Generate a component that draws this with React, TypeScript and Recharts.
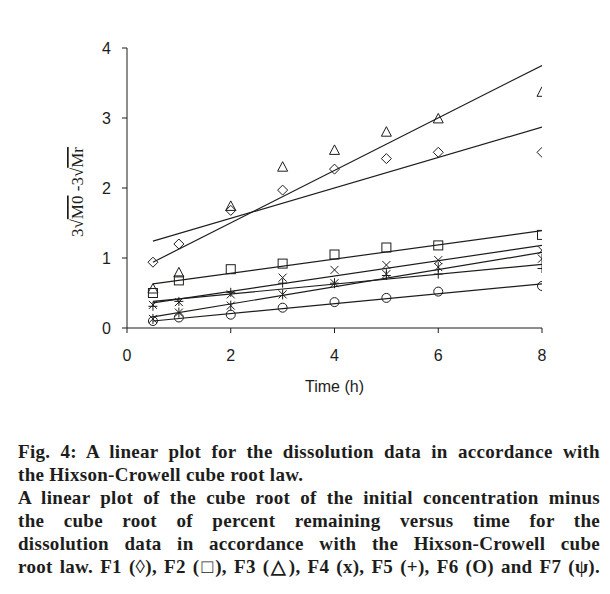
import React from 'react';
import { ScatterChart, Scatter, XAxis, YAxis, Label } from 'recharts';

const TIMES = [0.5, 1, 2, 3, 4, 5, 6, 8];

const F1 = [0.94, 1.2, 1.68, 1.97, 2.27, 2.42, 2.51, 2.51];
const F2 = [0.5, 0.68, 0.84, 0.92, 1.05, 1.15, 1.18, 1.33];
const F3 = [0.55, 0.78, 1.73, 2.29, 2.53, 2.79, 2.98, 3.36];
const F4 = [0.33, 0.37, 0.48, 0.72, 0.83, 0.9, 0.97, 1.11];
const F5 = [0.31, 0.38, 0.51, 0.64, 0.64, 0.75, 0.77, 0.85];
const F6 = [0.1, 0.15, 0.19, 0.29, 0.37, 0.43, 0.52, 0.6];
const F7 = [0.13, 0.22, 0.32, 0.48, 0.64, 0.77, 0.87, 0.99];

// trend line ends (at t = 0.5 and t = 8)
const FIT_T = [0.5, 8];
const FIT_F1 = [1.24, 2.87];
const FIT_F2 = [0.63, 1.39];
const FIT_F3 = [0.94, 3.75];
const FIT_F4 = [0.36, 1.18];
const FIT_F5 = [0.38, 0.91];
const FIT_F6 = [0.1, 0.63];
const FIT_F7 = [0.16, 1.08];

const X_TICKS = [0, 2, 4, 6, 8];
const Y_TICKS = [0, 1, 2, 3, 4];

const CAPTION = [
  'Fig. 4: A linear plot for the dissolution data in accordance with',
  'the Hixson-Crowell cube root law.',
  'A linear plot of the cube root of the initial concentration minus',
  'the cube root of percent remaining versus time for the',
  'dissolution data in accordance with the Hixson-Crowell cube',
  'root law. F1 (◊), F2 (□), F3 (△), F4 (x), F5 (+), F6 (O) and F7 (ψ).',
];

const INK = '#1d1d1b';

const toPoints = (ts: number[], ys: number[]) => ts.map((t, i) => ({ t, y: ys[i] }));

const marker = (kind: string) => (props: any) => {
  const { cx, cy } = props;
  const s = { fill: 'none', stroke: INK, strokeWidth: 1 };
  switch (kind) {
    case 'diamond':
      return <path d={`M${cx},${cy - 5}L${cx + 5},${cy}L${cx},${cy + 5}L${cx - 5},${cy}Z`} {...s} />;
    case 'square':
      return <rect x={cx - 4.5} y={cy - 4.5} width={9} height={9} {...s} />;
    case 'triangle':
      return <path d={`M${cx},${cy - 6}L${cx + 5},${cy + 3.5}L${cx - 5},${cy + 3.5}Z`} {...s} />;
    case 'x':
      return <path d={`M${cx - 4},${cy - 4}L${cx + 4},${cy + 4}M${cx + 4},${cy - 4}L${cx - 4},${cy + 4}`} {...s} />;
    case 'plus':
      return <path d={`M${cx - 4.5},${cy}L${cx + 4.5},${cy}M${cx},${cy - 4.5}L${cx},${cy + 4.5}`} {...s} />;
    case 'circle':
      return <circle cx={cx} cy={cy} r={4.5} {...s} />;
    case 'star':
      return <path d={`M${cx - 4},${cy - 4}L${cx + 4},${cy + 4}M${cx + 4},${cy - 4}L${cx - 4},${cy + 4}M${cx},${cy - 5}L${cx},${cy + 5}`} {...s} />;
    default:
      return <g />;
  }
};

const NoDot = () => <g />;

const SERIES = [
  { data: F1, fit: FIT_F1, kind: 'diamond' },
  { data: F2, fit: FIT_F2, kind: 'square' },
  { data: F3, fit: FIT_F3, kind: 'triangle' },
  { data: F4, fit: FIT_F4, kind: 'x' },
  { data: F5, fit: FIT_F5, kind: 'plus' },
  { data: F6, fit: FIT_F6, kind: 'circle' },
  { data: F7, fit: FIT_F7, kind: 'star' },
];

const YLabel = (props: any) => {
  const vb = props.viewBox || {};
  const x = (vb.x ?? 67) + 16;
  const y = (vb.y ?? 48) + (vb.height ?? 280) / 2 + 4;
  return (
    <text
      x={x}
      y={y}
      transform={`rotate(-90 ${x} ${y})`}
      textAnchor="middle"
      fontFamily="'Liberation Serif', serif"
      fontSize={17}
      fill={INK}
    >
      <tspan>3√</tspan>
      <tspan style={{ textDecoration: 'overline' }}>M0</tspan>
      <tspan>{'  -3√'}</tspan>
      <tspan style={{ textDecoration: 'overline' }}>Mr</tspan>
    </text>
  );
};

export default function App() {
  const tick = { fill: INK, fontSize: 16, fontFamily: "'Liberation Sans', Arial, sans-serif" };
  return (
    <div style={{ position: 'absolute', left: 0, top: 0, width: 610, height: 594, background: '#fff' }}>
      <ScatterChart width={610} height={430} margin={{ top: 48, right: 68, bottom: 32, left: 67 }}>
        <XAxis
          type="number"
          dataKey="t"
          domain={[0, 8]}
          ticks={X_TICKS}
          tick={tick}
          tickSize={5}
          tickMargin={17}
          stroke={INK}
          height={70}
          allowDataOverflow
        >
          <Label
            value="Time (h)"
            position="insideBottom"
            offset={6}
            style={{ fill: INK, fontSize: 16, fontFamily: "'Liberation Sans', Arial, sans-serif" }}
          />
        </XAxis>
        <YAxis
          type="number"
          dataKey="y"
          domain={[0, 4]}
          ticks={Y_TICKS}
          tick={tick}
          tickSize={5}
          tickMargin={11}
          stroke={INK}
          width={60}
          allowDataOverflow
        >
          <Label content={<YLabel />} />
        </YAxis>
        {SERIES.map((s, i) => (
          <Scatter
            key={`fit${i}`}
            data={toPoints(FIT_T, s.fit)}
            line={{ stroke: INK, strokeWidth: 1.2 }}
            shape={NoDot}
            isAnimationActive={false}
          />
        ))}
        {SERIES.map((s, i) => (
          <Scatter
            key={`pts${i}`}
            data={toPoints(TIMES, s.data)}
            shape={marker(s.kind)}
            isAnimationActive={false}
          />
        ))}
      </ScatterChart>
      <div
        style={{
          position: 'absolute',
          left: 18,
          top: 440,
          width: 582,
          fontFamily: "'Liberation Serif', 'Times New Roman', serif",
          fontWeight: 'bold',
          fontSize: 19,
          lineHeight: '23px',
          letterSpacing: '0.3px',
          color: INK,
        }}
      >
        {CAPTION.map((line, i) => (
          <div key={i} style={{ textAlign: 'justify', textAlignLast: i === 1 ? 'left' : 'justify', whiteSpace: 'nowrap' }}>
            {line}
          </div>
        ))}
      </div>
    </div>
  );
}
